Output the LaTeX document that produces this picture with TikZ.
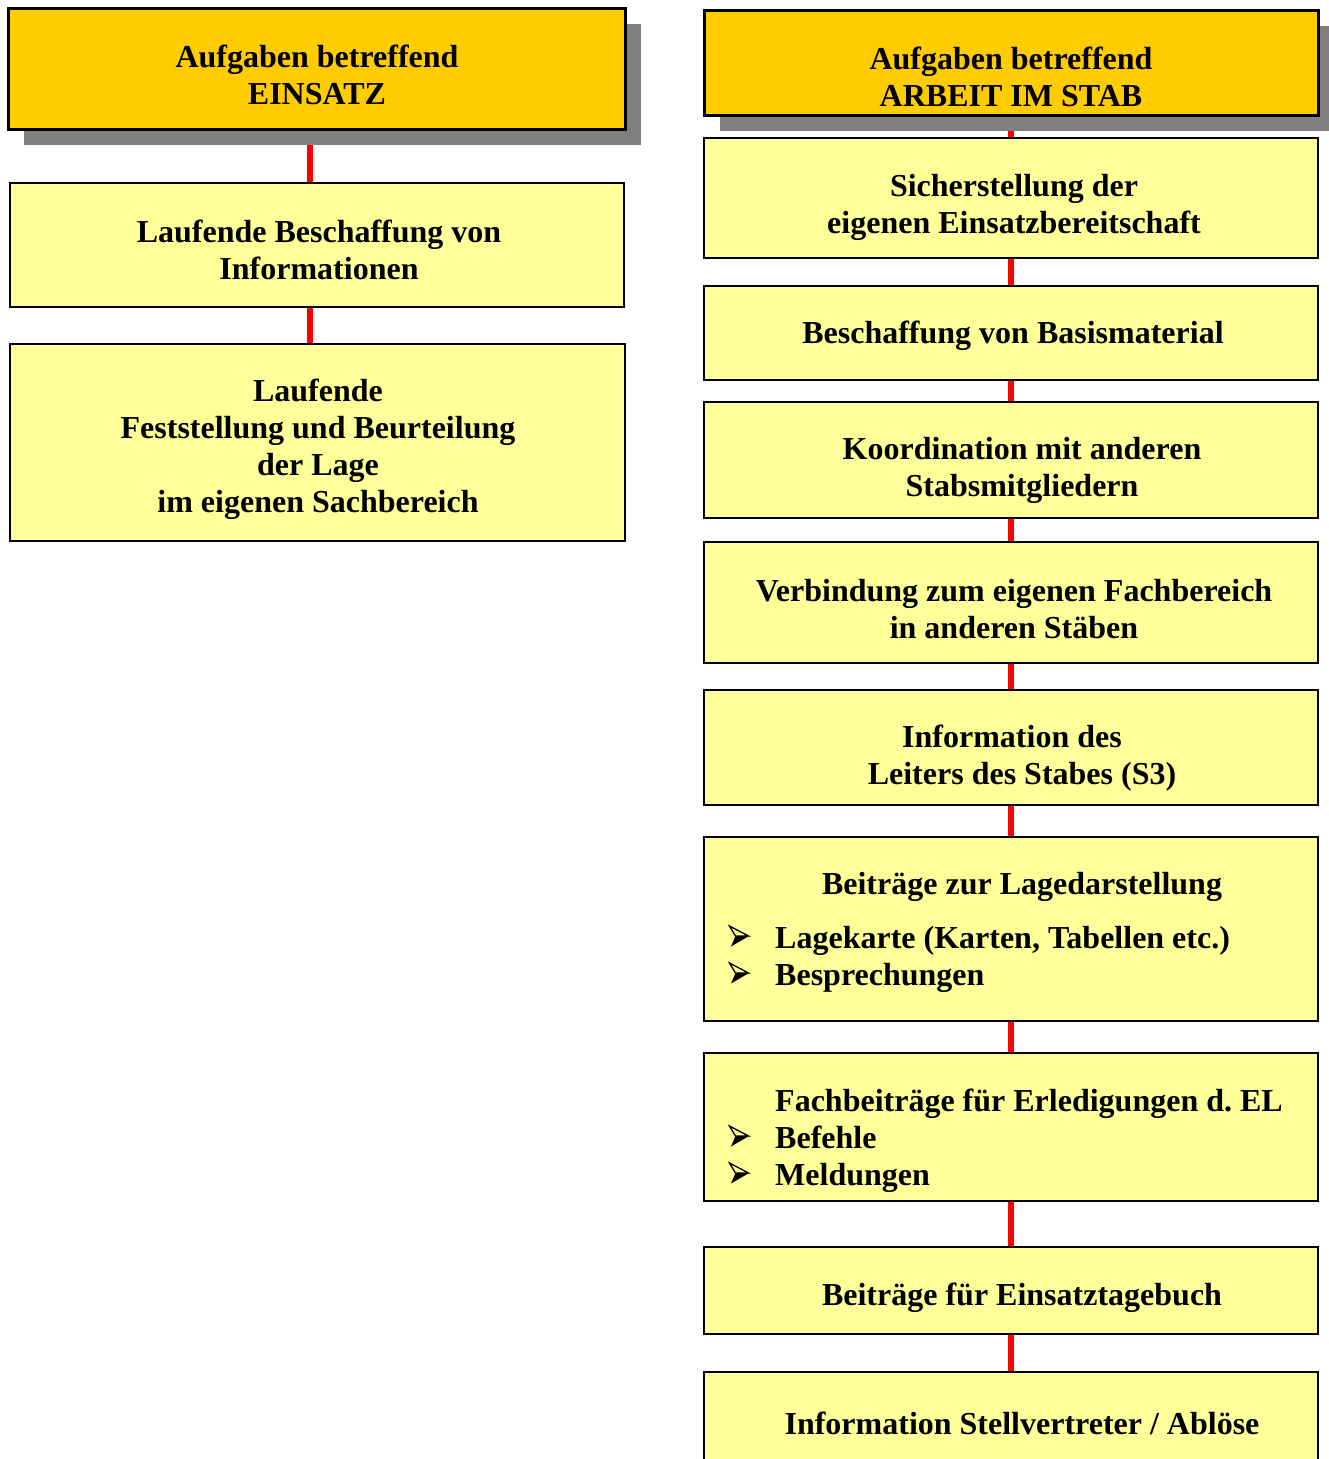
\documentclass[tikz,border=0pt]{standalone}
\usepackage{fontspec}
\setmainfont{Liberation Serif}
\usetikzlibrary{shadows,backgrounds}
\definecolor{headfill}{HTML}{FFCC00}
\definecolor{boxfill}{HTML}{FFFF99}
\definecolor{shadowgray}{HTML}{808080}
\definecolor{linkred}{HTML}{FF0000}
\tikzset{
  headbox/.style={draw=black, line width=3pt, fill=headfill, inner sep=0pt, outer sep=0pt,
    drop shadow={shadow xshift=16pt, shadow yshift=-16pt, fill=shadowgray, opacity=1}},
  taskbox/.style={draw=black, line width=1.8pt, fill=boxfill, inner sep=0pt, outer sep=0pt},
  txt/.style={font=\fontsize{32}{37}\selectfont\bfseries, align=center, inner sep=0pt},
  listtxt/.style={font=\fontsize{32}{37}\selectfont\bfseries, align=left, inner sep=0pt, anchor=west},
  link/.style={draw=linkred, line width=6pt},
  % arrowhead list bullet: outlined upper half, solid lower half
  arrowbullet/.pic={
    \draw[line width=1.3pt, line join=miter, fill=boxfill] (-9.5,-10) -- (9.5,0) -- (-3.5,0) -- cycle;
    \fill[black] (-3.5,0) -- (10,0) -- (-8,10.5) -- cycle;
  },
}
\begin{document}
\frenchspacing
\begin{tikzpicture}[x=1pt, y=-1pt]
\useasboundingbox (0,0) rectangle (1328,1459);

% ---------- left column: EINSATZ ----------
\node[headbox, minimum width=617pt, minimum height=121pt] (l0) at (316.5,68.5) {};
\node[taskbox, minimum width=614pt, minimum height=124pt] (l1) at (317,245) {};
\node[taskbox, minimum width=615pt, minimum height=197pt] (l2) at (317.5,442.5) {};

\node[txt] (tl0) at (317,75) {Aufgaben betreffend\\EINSATZ};
\node[txt] (tl1) at (319,250) {Laufende Beschaffung von\\Informationen};
\node[txt] (tl2) at (318,449) {Laufende\\Feststellung und Beurteilung\\der Lage\\im eigenen Sachbereich};

% ---------- right column: ARBEIT IM STAB ----------
\node[headbox, minimum width=614pt, minimum height=105pt] (r0) at (1011,62.5) {};
\node[taskbox, minimum width=614pt, minimum height=120pt] (r1) at (1011,198) {};
\node[taskbox, minimum width=614pt, minimum height=94pt]  (r2) at (1011,333) {};
\node[taskbox, minimum width=614pt, minimum height=116pt] (r3) at (1011,460) {};
\node[taskbox, minimum width=614pt, minimum height=121pt] (r4) at (1011,602.5) {};
\node[taskbox, minimum width=614pt, minimum height=115pt] (r5) at (1011,747.5) {};
\node[taskbox, minimum width=614pt, minimum height=184pt] (r6) at (1011,929) {};
\node[taskbox, minimum width=614pt, minimum height=148pt] (r7) at (1011,1127) {};
\node[taskbox, minimum width=614pt, minimum height=87pt]  (r8) at (1011,1290.5) {};
\node[taskbox, minimum width=614pt, minimum height=128pt] (r9) at (1011,1436) {};

\node[txt] (tr0) at (1011,77) {Aufgaben betreffend\\ARBEIT IM STAB};
\node[txt] (tr1) at (1014,207) {Sicherstellung der\\eigenen Einsatzbereitschaft};
\node[txt] (tr2) at (1013,336) {Beschaffung von Basismaterial};
\node[txt] (tr3) at (1022,470) {Koordination mit anderen\\Stabsmitgliedern};
\node[txt] (tr4) at (1014,609) {Verbindung zum eigenen Fachbereich\\in anderen Stäben};
\node[txt] (tr5) at (1012,758) {Information des\\\hspace*{20pt}Leiters des Stabes (S3)};
\node[txt] (tr6) at (1022,887) {Beiträge zur Lagedarstellung};
\node[listtxt] (tr6l) at (775,959) {Lagekarte (Karten, Tabellen etc.)\\Besprechungen};
\node[listtxt] (tr7l) at (775,1141) {Fachbeiträge für Erledigungen d. EL\\Befehle\\Meldungen};
\node[txt] (tr8) at (1022,1298) {Beiträge für Einsatztagebuch};
\node[txt] (tr9) at (1022,1423) {Information Stellvertreter / Ablöse};

% list bullets
\pic at (739,936) {arrowbullet};
\pic at (739,973) {arrowbullet};
\pic at (739,1136) {arrowbullet};
\pic at (739,1173) {arrowbullet};

% ---------- red connectors behind the boxes ----------
\begin{scope}[on background layer]
  \draw[link] ([xshift=-7pt]l1.north |- l0.south) -- ([xshift=-7pt]l1.north);
  \draw[link] ([xshift=-7pt]l1.south) -- ([xshift=-7pt]l1.south |- l2.north);
  \draw[link] (r0.south) -- (r1.north);
  \draw[link] (r1.south) -- (r2.north);
  \draw[link] (r2.south) -- (r3.north);
  \draw[link] (r3.south) -- (r4.north);
  \draw[link] (r4.south) -- (r5.north);
  \draw[link] (r5.south) -- (r6.north);
  \draw[link] (r6.south) -- (r7.north);
  \draw[link] (r7.south) -- (r8.north);
  \draw[link] (r8.south) -- (r9.north);
\end{scope}
\end{tikzpicture}
\end{document}
